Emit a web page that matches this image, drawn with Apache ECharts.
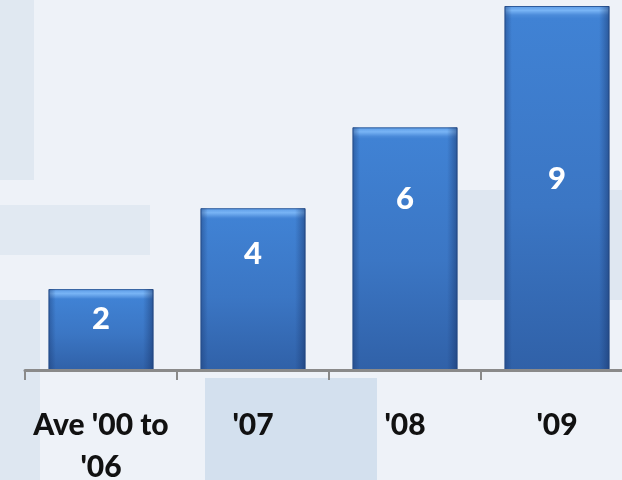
<!DOCTYPE html>
<html>
<head>
<meta charset="utf-8">
<script src="https://cdn.jsdelivr.net/npm/echarts@6/dist/echarts.min.js"></script>
<style>
  html, body { margin: 0; padding: 0; background: #eef2f8; overflow: hidden; }
  #chart { width: 622px; height: 480px; }
</style>
</head>
<body>
<div id="chart"></div>
<script>
// Chart data
var categories = ["Ave '00 to\n'06", "'07", "'08", "'09"];
var values = [2, 4, 6, 9];

// Vertical nudges for the value labels inside each bar (px)
var labelShift = [-11, -35, -50, -9];

var chart = echarts.init(document.getElementById('chart'), null, { renderer: 'canvas', width: 622, height: 480 });

var GRID_TOP = 6, GRID_H = 364, Y_MAX = 9;
var pxPerUnit = GRID_H / Y_MAX;

// Base bar fill: bevelled highlight at the top, then a soft vertical fade
function barFill(v) {
  var h = v * pxPerUnit;
  var b = Math.min(9 / h, 0.3);
  return new echarts.graphic.LinearGradient(0, 0, 0, 1, [
    { offset: 0, color: '#5b9be6' },
    { offset: b * 0.5, color: '#78b4f5' },
    { offset: b, color: '#4b8bda' },
    { offset: b + 0.01, color: '#4082d4' },
    { offset: 0.55, color: '#3b76c4' },
    { offset: 1, color: '#3061a8' }
  ]);
}

var baseData = values.map(function (v) {
  return { value: v, itemStyle: { color: barFill(v) } };
});

var overlayData = values.map(function (v, i) {
  return {
    value: v,
    label: { offset: [0, labelShift[i]] }
  };
});

// Dark side edges laid over the base fill
var edgeShade = new echarts.graphic.LinearGradient(0, 0, 1, 0, [
  { offset: 0, color: 'rgba(25,55,110,0.45)' },
  { offset: 0.07, color: 'rgba(25,55,110,0.0)' },
  { offset: 0.9, color: 'rgba(25,55,110,0.0)' },
  { offset: 1, color: 'rgba(20,45,95,0.5)' }
]);

var option = {
  backgroundColor: '#eef2f8',
  animation: false,
  graphic: [
    { type: 'rect', z: -10, silent: true, shape: { x: 0, y: 0, width: 34, height: 180 }, style: { fill: '#e0e8f1' } },
    { type: 'rect', z: -10, silent: true, shape: { x: 380, y: 190, width: 242, height: 110 }, style: { fill: '#dfe7f1' } },
    { type: 'rect', z: -10, silent: true, shape: { x: 0, y: 205, width: 150, height: 50 }, style: { fill: '#e1e9f2' } },
    { type: 'rect', z: -10, silent: true, shape: { x: 0, y: 300, width: 40, height: 180 }, style: { fill: '#dee7f1' } },
    { type: 'rect', z: -10, silent: true, shape: { x: 205, y: 378, width: 172, height: 102 }, style: { fill: '#d3e0ee' } }
  ],
  grid: {
    left: 25, top: GRID_TOP, width: 608, height: GRID_H,
    containLabel: false,
    outerBoundsMode: 'none'
  },
  xAxis: {
    type: 'category',
    data: categories,
    z: 5,
    axisLine: { lineStyle: { color: '#8a8a8a', width: 3 } },
    axisTick: { show: true, length: 10, lineStyle: { color: '#8a8a8a', width: 2 } },
    axisLabel: {
      margin: 34,
      color: '#111',
      fontFamily: 'Lato',
      fontWeight: 900,
      fontSize: 30,
      lineHeight: 42,
      interval: 0
    }
  },
  yAxis: {
    type: 'value',
    min: 0,
    max: Y_MAX,
    show: false,
    splitLine: { show: false }
  },
  series: [
    {
      type: 'bar',
      data: baseData,
      barWidth: 105,
      itemStyle: { borderColor: '#2d5b9c', borderWidth: 1 },
      z: 2
    },
    {
      type: 'bar',
      data: overlayData,
      barWidth: 105,
      barGap: '-100%',
      itemStyle: { color: edgeShade },
      label: {
        show: true,
        position: 'inside',
        color: '#ffffff',
        fontFamily: 'Lato',
        fontWeight: 900,
        fontSize: 31
      },
      z: 3
    }
  ]
};

chart.setOption(option);
</script>
</body>
</html>
